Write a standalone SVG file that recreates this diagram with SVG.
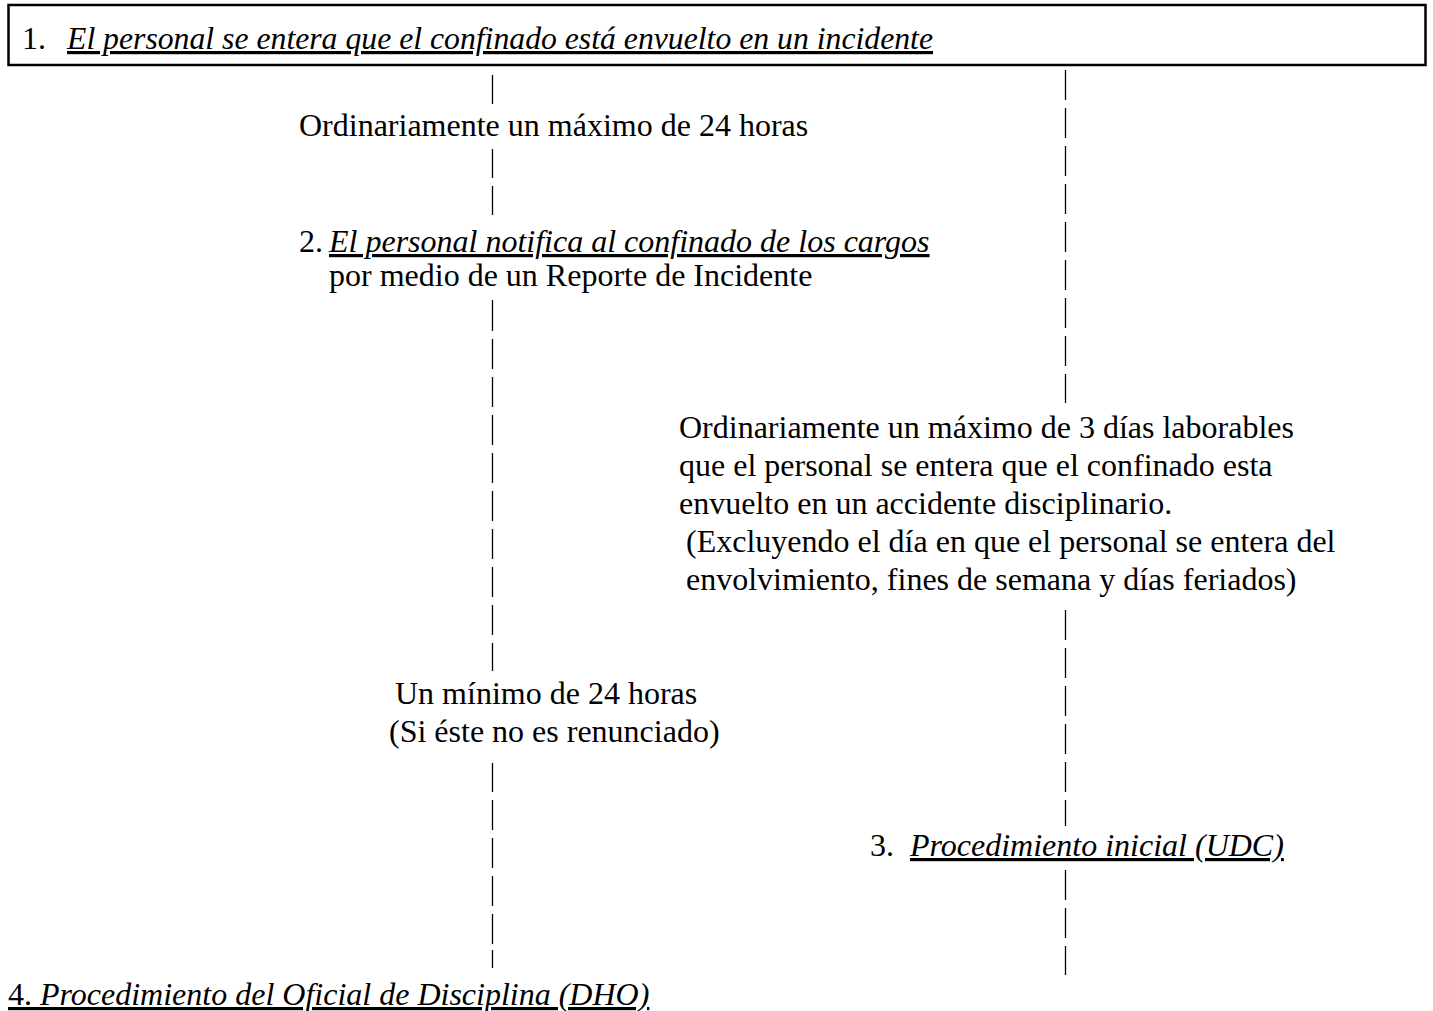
<svg xmlns="http://www.w3.org/2000/svg" width="1433" height="1011" viewBox="0 0 1433 1011">
<style>
  text { font-family: "Liberation Serif", "Times New Roman", serif; font-size: 32px; fill: #000; }
  .it { font-style: italic; }
  .u { text-decoration: underline; }
  .conn { fill: none; stroke: #000; stroke-width: 1.3; }
  .box { fill: #fff; stroke: #000; stroke-width: 2.5; }
</style>
<rect width="1433" height="1011" fill="#fff"/>
<g id="connectors">
  <path class="conn" d="M492.5 75V104 M492.5 149V178 M492.5 186V215 M492.5 300V331 M492.5 339V369 M492.5 377V407 M492.5 415V445 M492.5 453V483 M492.5 491V521 M492.5 529V559 M492.5 567V597 M492.5 605V635 M492.5 643V671 M492.5 763V792 M492.5 800V830 M492.5 838V868 M492.5 876V906 M492.5 914V944 M492.5 950V968"/>
  <path class="conn" d="M1065.5 70V100 M1065.5 108V138 M1065.5 146V176 M1065.5 184V214 M1065.5 222V252 M1065.5 260V290 M1065.5 298V328 M1065.5 336V366 M1065.5 374V403 M1065.5 610V640 M1065.5 648V678 M1065.5 686V716 M1065.5 724V754 M1065.5 762V792 M1065.5 800V826 M1065.5 870V900 M1065.5 908V938 M1065.5 946V975"/>
</g>
<g id="node1">
  <rect class="box" x="8.5" y="5" width="1417" height="60"/>
  <text x="22" y="49">1.</text>
  <text x="67" y="49" class="it u" textLength="866" lengthAdjust="spacingAndGlyphs">El personal se entera que el confinado está envuelto en un incidente</text>
</g>
<g id="label-24h">
  <text x="299" y="136">Ordinariamente un máximo de 24 horas</text>
</g>
<g id="node2">
  <text x="299" y="252">2.</text>
  <text x="329" y="252" class="it u">El personal notifica al confinado de los cargos</text>
  <text x="329" y="286">por medio de un Reporte de Incidente</text>
</g>
<g id="label-3dias">
  <text x="679" y="438">Ordinariamente un máximo de 3 días laborables</text>
  <text x="679" y="476">que el personal se entera que el confinado esta</text>
  <text x="679" y="514">envuelto en un accidente disciplinario.</text>
  <text x="686" y="552">(Excluyendo el día en que el personal se entera del</text>
  <text x="686" y="590">envolvimiento, fines de semana y días feriados)</text>
</g>
<g id="label-min24">
  <text x="395" y="704">Un mínimo de 24 horas</text>
  <text x="389" y="742">(Si éste no es renunciado)</text>
</g>
<g id="node3">
  <text x="870" y="856">3.</text>
  <text x="910" y="856" class="it u">Procedimiento inicial (UDC)</text>
</g>
<g id="node4">
  <text x="8" y="1005" class="u">4. <tspan class="it">Procedimiento del Oficial de Disciplina (DHO)</tspan></text>
</g>
</svg>
